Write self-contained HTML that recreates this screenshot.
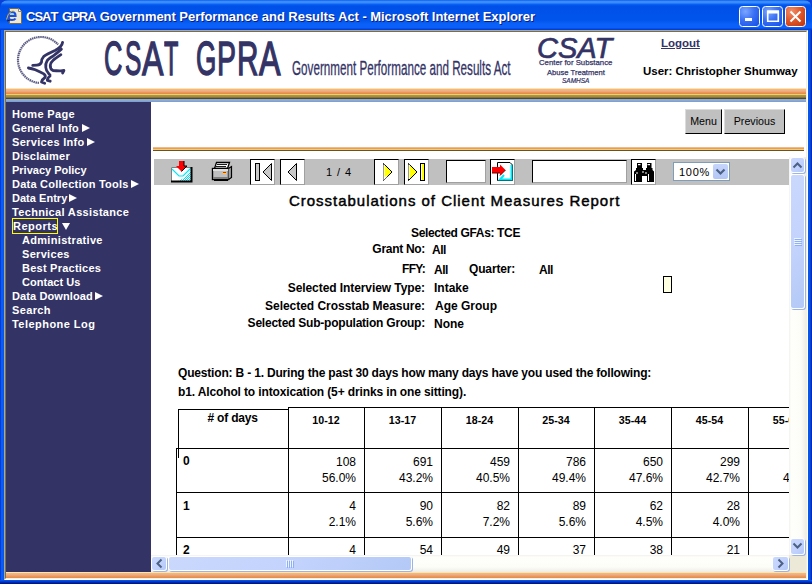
<!DOCTYPE html>
<html><head><meta charset="utf-8">
<style>
*{margin:0;padding:0;box-sizing:border-box}
html,body{width:812px;height:584px;overflow:hidden;background:#0a3fd8;font-family:"Liberation Sans",sans-serif}
.a{position:absolute}
#win{position:absolute;left:0;top:0;width:812px;height:584px;background:linear-gradient(90deg,#0019b8 0,#0a5cf5 1px,#0a5cf5 3px,#0050e8 4px,#0050e8 808px,#0a5cf5 809px,#003cd0 811px,#001a90 812px);border-radius:8px 8px 0 0;overflow:hidden}
#title{position:absolute;left:0;top:0;width:812px;height:30px;border-radius:8px 8px 0 0;
background:linear-gradient(180deg,#0050e0 0,#3a8cff 1px,#3a8cff 3px,#0a64f8 4px,#0050e8 6px,#0054ec 20px,#0a60f8 24px,#0a60f8 28px,#0040d8 29px,#0040d8 30px)}
#ttext{position:absolute;left:26px;top:9px;color:#fff;font-weight:bold;font-size:13px;letter-spacing:0px;text-shadow:1px 1px 0 #0a1e80;white-space:nowrap;line-height:16px}
.tb{position:absolute;top:6px;width:21px;height:21px;border:1px solid #fff;border-radius:3px;background:radial-gradient(circle at 30% 30%,#6e9cff 0,#2a64f0 60%,#1c4ed8 100%)}
#content{position:absolute;left:4px;top:30px;width:804px;height:550px;border-top:1px solid #aca899;border-left:1px solid #aca899;border-right:1px solid #fff;border-bottom:1px solid #fff}
#inner{position:absolute;left:0;top:0;width:802px;height:548px;border-top:1px solid #716f64;border-left:1px solid #716f64;border-right:1px solid #f1efe2;border-bottom:1px solid #f1efe2;background:#fff;overflow:hidden}
.nav{position:absolute;left:12px;color:#fff;font-weight:bold;font-size:11px;letter-spacing:0.3px;line-height:14px;white-space:nowrap}
.arr{position:absolute;width:0;height:0;border-top:4px solid transparent;border-bottom:4px solid transparent;border-left:8px solid #fff}
.lbl{position:absolute;font-weight:bold;font-size:12px;line-height:14px;white-space:nowrap;color:#000}
.r{text-align:right}
.btn{position:absolute;top:109px;height:25px;background:#c0c0c0;border-top:1px solid #dcdcdc;border-left:1px solid #dcdcdc;border-right:1px solid #000;border-bottom:1px solid #000;font-size:10.67px;line-height:23px;text-align:center;color:#000}
.tbtn{position:absolute;top:159px;width:25px;height:26px;background:#fff;border-top:1px solid #000;border-left:1px solid #000;border-right:1px solid #a0a0a0;border-bottom:1px solid #a0a0a0}
.inp{position:absolute;top:160px;height:23px;background:#fff;border-top:1px solid #000;border-left:1px solid #000;border-right:1px solid #a0a0a0;border-bottom:1px solid #a0a0a0}
.cell{position:absolute;border:0}
.hl{position:absolute;background:#000;height:2px}
.vl{position:absolute;background:#000;width:2px}
.num{position:absolute;font-size:12px;line-height:16px;text-align:right;white-space:nowrap;color:#000}
.hd{position:absolute;font-size:10.67px;font-weight:bold;line-height:14px;text-align:center;white-space:nowrap;color:#000}
.sbb{position:absolute;border:1px solid #fff;border-radius:3px;background:linear-gradient(135deg,#cad8fd 0,#c3d3fc 50%,#b4c9f7 100%);box-shadow:1px 1px 0 #9db4e3}
</style></head><body>
<div id="win">
 <div id="title">

  <svg class="a" style="left:0;top:0" width="812" height="30" viewBox="0 0 812 30">
   <path d="M9.5,8.5 L18.5,8.5 L21.5,11.5 L21.5,23.5 L9.5,23.5 Z" fill="#ece9d8" stroke="#7a6a50" stroke-width="1"/>
   <path d="M18.5,8.5 L18.5,11.5 L21.5,11.5" fill="#fff" stroke="#7a6a50" stroke-width="0.8"/>
   <path d="M9,16 L15.5,16 Q15.5,12 12,12 Q8,12 8,16 Q8,20 12,20 Q14.5,20 15.5,18.5" fill="none" stroke="#2050d8" stroke-width="2.2"/>
   <path d="M10,14 L14,14" stroke="#40c0ff" stroke-width="0.8"/>
   <path d="M6.5,19.5 Q7.5,14 11,11.5 Q13,10.5 14,11" fill="none" stroke="#e0c040" stroke-width="1" opacity="0.9"/>
   <path d="M7,21 L10,20" stroke="#101850" stroke-width="1"/>
   <g>
    <rect x="739.5" y="6.5" width="20" height="20" rx="3" fill="url(#gmin)" stroke="#fff" stroke-width="1"/>
    <rect x="745" y="18" width="7" height="3" fill="#fff"/>
    <rect x="762.5" y="6.5" width="20" height="20" rx="3" fill="url(#gmin)" stroke="#fff" stroke-width="1"/>
    <rect x="768" y="11" width="10" height="10" fill="none" stroke="#fff" stroke-width="1"/>
    <rect x="767.5" y="10.5" width="11" height="3" fill="#fff"/>
    <path d="M767.5,10.5 L767.5,21.5 L778.5,21.5 L778.5,10.5" fill="none" stroke="#fff" stroke-width="1.2"/>
    <rect x="785.5" y="6.5" width="20" height="20" rx="3" fill="url(#gcls)" stroke="#fff" stroke-width="1"/>
    <path d="M790.5,11.5 L800.5,21.5 M800.5,11.5 L790.5,21.5" stroke="#fff" stroke-width="2"/>
   </g>
   <defs>
    <radialGradient id="gmin" cx="0.3" cy="0.25" r="0.9"><stop offset="0" stop-color="#7aa6ff"/><stop offset="0.5" stop-color="#3a70f4"/><stop offset="1" stop-color="#1a54e8"/></radialGradient>
    <radialGradient id="gcls" cx="0.3" cy="0.25" r="0.9"><stop offset="0" stop-color="#f0906a"/><stop offset="0.5" stop-color="#e0582c"/><stop offset="1" stop-color="#c43810"/></radialGradient>
   </defs>
  </svg>
  <div id="ttext"><span style="letter-spacing:-1px">CSA</span>T <span style="letter-spacing:-1px">GPR</span>A <span style="letter-spacing:-0.05px">Government Performance and Results Act - Microsoft Internet Explorer</span></div>
 </div>
 <div class="a" style="left:0;top:580px;width:812px;height:4px;background:linear-gradient(180deg,#0a5cf5 0,#0048e0 1px,#0030c0 2px,#001c98 3px,#001280 4px)"></div>
 <div id="content"><div id="inner"></div></div>

 <!-- header stripe -->
 <div class="a" style="left:6px;top:88px;width:800px;height:14px;background:linear-gradient(180deg,#fde7a0 0,#fde7a0 1px,#f0b890 1px,#efae84 3px,#eca070 4px,#e88c48 5px,#e88a40 6px,#f0d060 6px,#f0d060 7px,#b09850 7px,#a08840 9px,#706028 10px,#3a2c10 11px,#8aaedc 11px,#88a8d8 13px,#7898c8 14px)"></div>
 <!-- sidebar -->
 <div class="a" style="left:6px;top:102px;width:145px;height:470px;background:#333366"></div>
 <!-- bottom stripe -->
 <div class="a" style="left:6px;top:572px;width:800px;height:6px;background:linear-gradient(180deg,#fde7a0 0,#fde7a0 1px,#f0b890 1px,#eeaa80 3px,#e89050 5px,#e88a40 6px)"></div>

 <!-- header logos -->
 <svg class="a" style="left:10px;top:32px" width="65" height="56" viewBox="10 32 65 56">
  <path d="M39,82.9 A23,23 0 1,1 58.1,44.6" fill="none" stroke="#333366" stroke-width="2.2" stroke-dasharray="1.5 0.6" opacity="0.8"/>
  <g fill="none" stroke="#333366" stroke-width="2.8" stroke-linecap="round" stroke-linejoin="round">
   <path d="M62.6,42.3 Q62,47 55,50.5 Q47,54 43.8,56.4 Q41.5,59 41.5,62 Q40.5,65 37,65.2 L32.7,65.4"/>
   <path d="M61.4,49.1 Q57,53 53.2,56 Q48,59 47,61 Q45.2,64 45.8,67.5 Q46,71 49,73.9 Q50.5,75 50,76 Q47,78.5 47.4,80.5 L50.2,81.2"/>
   <path d="M60.9,54.7 Q56,58 53.2,60.2 Q50.5,62.5 50.3,65 Q50,69 53,70.5 Q57,71 60.9,70.9 L63.9,70.5 L62.6,73"/>
   <path d="M28.4,68 Q32,68.5 35.3,69.7 Q40.5,72 43.8,73.9 Q46,75.5 45,77.5 Q42,79.5 41.5,82 L44.7,83.3"/>
  </g>
 </svg>
 <div class="a" style="left:292px;top:57px;font-size:20.5px;color:#333366;transform:scaleX(0.569);transform-origin:0 0;white-space:nowrap;line-height:22px;-webkit-text-stroke:0.3px #333366">Government Performance and Results Act</div>
 <div class="a" style="left:537px;top:33px;font-size:29px;font-style:italic;color:#333366;white-space:nowrap;line-height:30px;-webkit-text-stroke:0.7px #333366">CSAT</div>
 <div class="a" style="left:539px;top:58px;font-size:8px;color:#333366;white-space:nowrap;line-height:9px;transform:scaleX(0.97);transform-origin:0 0;-webkit-text-stroke:0.25px #333366">Center for Substance</div>
 <div class="a" style="left:547px;top:68px;font-size:8px;color:#333366;white-space:nowrap;line-height:9px;transform:scaleX(0.95);transform-origin:0 0;-webkit-text-stroke:0.25px #333366">Abuse Treatment</div>
 <div class="a" style="left:562px;top:77px;font-size:6.5px;font-style:italic;color:#333366;white-space:nowrap;line-height:7px;-webkit-text-stroke:0.2px #333366">SAMHSA</div>
 <div class="a" style="left:661px;top:37px;font-size:11.5px;font-weight:bold;color:#333366;text-decoration:underline;white-space:nowrap;line-height:13px">Logout</div>
 <div class="a" style="left:643px;top:65px;font-size:11.5px;font-weight:bold;color:#000;white-space:nowrap;line-height:13px">User: Christopher Shumway</div>

 <div class="a" style="left:103.96px;top:34.70px;font-size:47.6px;line-height:47.6px;color:#333366;-webkit-text-stroke:1.4px #333366;transform:scaleX(0.534);transform-origin:0 0">C</div>
 <div class="a" style="left:125.00px;top:34.70px;font-size:47.6px;line-height:47.6px;color:#333366;-webkit-text-stroke:1.4px #333366;transform:scaleX(0.515);transform-origin:0 0">S</div>
 <div class="a" style="left:141.60px;top:34.70px;font-size:47.6px;line-height:47.6px;color:#333366;-webkit-text-stroke:1.4px #333366;transform:scaleX(0.674);transform-origin:0 0">A</div>
 <div class="a" style="left:163.70px;top:34.70px;font-size:47.6px;line-height:47.6px;color:#333366;-webkit-text-stroke:1.4px #333366;transform:scaleX(0.493);transform-origin:0 0">T</div>
 <div class="a" style="left:195.93px;top:34.70px;font-size:47.6px;line-height:47.6px;color:#333366;-webkit-text-stroke:1.4px #333366;transform:scaleX(0.549);transform-origin:0 0">G</div>
 <div class="a" style="left:216.95px;top:34.70px;font-size:47.6px;line-height:47.6px;color:#333366;-webkit-text-stroke:1.4px #333366;transform:scaleX(0.599);transform-origin:0 0">P</div>
 <div class="a" style="left:237.28px;top:34.70px;font-size:47.6px;line-height:47.6px;color:#333366;-webkit-text-stroke:1.4px #333366;transform:scaleX(0.624);transform-origin:0 0">R</div>
 <div class="a" style="left:259.00px;top:34.70px;font-size:47.6px;line-height:47.6px;color:#333366;-webkit-text-stroke:1.4px #333366;transform:scaleX(0.677);transform-origin:0 0">A</div>
 <!-- nav -->
 <div class="nav" style="top:107px;letter-spacing:0.34px">Home Page</div>
 <div class="nav" style="top:121px;letter-spacing:0.24px">General Info</div><div class="arr" style="left:82px;top:124px"></div>
 <div class="nav" style="top:135px;letter-spacing:0.32px">Services Info</div><div class="arr" style="left:87px;top:138px"></div>
 <div class="nav" style="top:149px;letter-spacing:0.23px">Disclaimer</div>
 <div class="nav" style="top:163px;letter-spacing:0.0px">Privacy Policy</div>
 <div class="nav" style="top:177px;letter-spacing:0.235px">Data Collection Tools</div><div class="arr" style="left:131px;top:180px"></div>
 <div class="nav" style="top:191px;letter-spacing:0.03px">Data Entry</div><div class="arr" style="left:69px;top:194px"></div>
 <div class="nav" style="top:205px;letter-spacing:0.33px">Technical Assistance</div>
 <div class="nav" style="top:219px;left:13px;letter-spacing:0.5px">Reports</div>
 <div class="a" style="left:12px;top:218px;width:46px;height:16px;border:1px solid #ffff00"></div>
 <div class="a" style="left:62px;top:223px;width:0;height:0;border-left:4px solid transparent;border-right:4px solid transparent;border-top:7px solid #fff"></div>
 <div class="nav" style="top:233px;left:22px;letter-spacing:0.31px">Administrative</div>
 <div class="nav" style="top:247px;left:22px;letter-spacing:0.31px">Services</div>
 <div class="nav" style="top:261px;left:22px;letter-spacing:0.24px">Best Practices</div>
 <div class="nav" style="top:275px;left:22px;letter-spacing:0.03px">Contact Us</div>
 <div class="nav" style="top:289px;letter-spacing:0.11px">Data Download</div><div class="arr" style="left:95px;top:292px"></div>
 <div class="nav" style="top:303px;letter-spacing:0.36px">Search</div>
 <div class="nav" style="top:317px;letter-spacing:0.46px">Telephone Log</div>


 <!-- iframe content -->
 <div class="a" style="left:154px;top:159px;width:635px;height:26px;background:#c0c0c0"></div>
 <!-- download icon -->
 <svg class="a" style="left:166px;top:157px" width="30" height="28" viewBox="166 157 30 28">
  <defs><pattern id="dith" width="2" height="2" patternUnits="userSpaceOnUse"><rect x="0" y="0" width="1" height="1" fill="#00e0f0"/><rect x="1" y="1" width="1" height="1" fill="#00e0f0"/><rect x="1" y="0" width="1" height="1" fill="#fff"/><rect x="0" y="1" width="1" height="1" fill="#fff"/></pattern></defs>
  <rect x="171" y="167" width="21" height="15" fill="#fff"/>
  <path d="M184,178 L191,170 L191,181 L178,181 Z" fill="url(#dith)"/>
  <path d="M172,169 L179,176 L183,176 L191,168" fill="none" stroke="#00e8f8" stroke-width="1.2"/>
  <path d="M171.5,182 L171.5,167.5 L191.5,167.5" fill="none" stroke="#808080" stroke-width="1"/>
  <path d="M171,181.5 L191.5,181.5 L191.5,167" fill="none" stroke="#000" stroke-width="2"/>
  <path d="M179,161 L184,161 L184,166 L187,166 L181.5,171.5 L176,166 L179,166 Z" fill="#ff0000"/>
  <path d="M184,161 L184,166 L187,166 L181.5,171.5" fill="none" stroke="#000" stroke-width="1"/>
 </svg>
 <!-- printer icon -->
 <svg class="a" style="left:206px;top:157px" width="30" height="28" viewBox="206 157 30 28">
  <path d="M216.5,162.5 L229.5,162.5 L227.5,168.5 L214.5,168.5 Z" fill="#fff" stroke="#000" stroke-width="1.3"/>
  <path d="M217,164.5 L227,164.5 M216,166.5 L226,166.5" stroke="#000" stroke-width="0.9"/>
  <rect x="212.5" y="168.5" width="16" height="11" fill="#c0c0c0" stroke="#000" stroke-width="1.4"/>
  <path d="M228.5,168.5 L231.5,166.5 L231.5,177.5 L228.5,179.5" fill="#a0a0a0" stroke="#000" stroke-width="1.2"/>
  <rect x="213" y="169" width="15" height="2" fill="#e0e0e0"/>
  <rect x="213" y="177" width="15" height="2" fill="#808080"/>
  <path d="M214,180.5 L228,180.5" stroke="#000" stroke-width="1.2"/>
  <rect x="223" y="172" width="3" height="1" fill="#ff2000"/>
  <rect x="223" y="173" width="3" height="1" fill="#f0e000"/>
 </svg>
 <!-- nav buttons -->
 <div class="tbtn" style="left:250px"></div>
 <div class="tbtn" style="left:280px"></div>
 <div class="tbtn" style="left:374px"></div>
 <div class="tbtn" style="left:404px"></div>
 <svg class="a" style="left:245px;top:155px" width="190" height="32" viewBox="245 155 190 32">
  <rect x="255.5" y="163.5" width="4" height="17" fill="#c8c8c8" stroke="#000" stroke-width="1"/>
  <path d="M271.5,163.5 L263,172 L271.5,180.5 Z" fill="#c8c8c8" stroke="#000" stroke-width="1"/>
  <path d="M296.5,163.5 L288,172 L296.5,180.5 Z" fill="#c8c8c8" stroke="#000" stroke-width="1"/>
  <path d="M383.5,163.5 L392,172 L383.5,180.5 Z" fill="#ffff00" stroke="#000" stroke-width="1"/>
  <path d="M384,164.5 L384,179 L387,176" fill="none" stroke="#fff" stroke-width="1.2"/>
  <path d="M408.5,163.5 L417,172 L408.5,180.5 Z" fill="#ffff00" stroke="#000" stroke-width="1"/>
  <path d="M409,164.5 L409,179" fill="none" stroke="#fff" stroke-width="1.2"/>
  <rect x="420.5" y="163.5" width="4" height="17" fill="#ffff00" stroke="#000" stroke-width="1"/>
  <path d="M421.5,164 L421.5,180" stroke="#fff" stroke-width="1"/>
 </svg>
 <div class="a" style="left:326px;top:166px;font-size:11px;letter-spacing:0.9px;line-height:13px;white-space:nowrap;color:#000">1 / 4</div>
 <div class="inp" style="left:446px;width:40px"></div>
 <div class="tbtn" style="left:490px"></div>
 <svg class="a" style="left:490px;top:159px" width="26" height="26" viewBox="490 159 26 26">
  <path d="M497.5,162.5 L510,162.5 L512.5,165 L512.5,180.5 L497.5,180.5 Z" fill="#fff" stroke="#000" stroke-width="1"/>
  <path d="M498,180 L498,175 L502,171 L512,171 L512,180 Z" fill="#00e8f8" opacity="0"/>
  <path d="M511.5,165 L511.5,179.5 L500,179.5 L504,175" fill="none" stroke="#00e8f8" stroke-width="2"/>
  <path d="M492,167 L500,167 L500,164.5 L505.5,170 L500,175.5 L500,173 L492,173 Z" fill="#ff0000"/>
  <path d="M500,173 L492,173 M500,175.5 L505.5,170" fill="none" stroke="#600" stroke-width="1"/>
 </svg>
 <div class="inp" style="left:532px;width:95px"></div>
 <div class="tbtn" style="left:631px"></div>
 <svg class="a" style="left:631px;top:159px" width="26" height="26" viewBox="631 159 26 26">
  <path d="M637,163 L642,163 L642,168 L643,168 L643,170 L646,170 L646,168 L647,168 L647,163 L651.5,163 L651.5,168 L652.5,168 L652.5,170 L654,171.5 L654,182 L647,182 L647,176 L642,176 L642,182 L634,182 L634,171.5 L636,170 L636,168 L637,168 Z" fill="#000"/>
  <rect x="638" y="164" width="2.5" height="1.2" fill="#fff"/>
  <rect x="647.5" y="164" width="2.5" height="1.2" fill="#fff"/>
  <rect x="635" y="174" width="1" height="7" fill="#fff"/>
  <rect x="648" y="174" width="1" height="7" fill="#fff"/>
  <rect x="636.5" y="172" width="1" height="2" fill="#fff"/>
  <rect x="642.5" y="171" width="1" height="2" fill="#fff"/>
  <rect x="645.5" y="172" width="1" height="2" fill="#fff"/>
 </svg>
 <!-- zoom select -->
 <div class="a" style="left:673px;top:162px;width:57px;height:19px;background:#fff;border:1px solid #7f9db9"></div>
 <div class="a" style="left:679px;top:166px;font-size:11px;letter-spacing:0.7px;line-height:13px;color:#000;white-space:nowrap">100%</div>
 <div class="a" style="left:713px;top:164px;width:15px;height:15px;border-radius:2px;background:linear-gradient(180deg,#c6d5fc,#b2c6f5)"></div>
 <svg class="a" style="left:713px;top:164px" width="15" height="15" viewBox="0 0 15 15"><path d="M3.5,5.5 L7.5,9.5 L11.5,5.5" fill="none" stroke="#4d6185" stroke-width="2.2"/></svg>

 <!-- report header -->
 <div class="a" style="left:289px;top:192px;font-size:15px;letter-spacing:0.98px;line-height:17px;white-space:nowrap;color:#000;-webkit-text-stroke:0.45px #000">Crosstabulations of Client Measures Report</div>
 <div class="lbl" style="left:411px;top:226px;letter-spacing:-0.35px">Selected GFAs: TCE</div>
 <div class="lbl r" style="left:225px;width:200px;top:242px;letter-spacing:-0.3px">Grant No:</div>
 <div class="lbl" style="left:432px;top:243px;letter-spacing:-0.5px">All</div>
 <div class="lbl r" style="left:225px;width:200px;top:262px;letter-spacing:-0.7px">FFY:</div>
 <div class="lbl" style="left:434px;top:263px;letter-spacing:-0.5px">All</div>
 <div class="lbl" style="left:469px;top:262px;letter-spacing:-0.15px">Quarter:</div>
 <div class="lbl" style="left:539px;top:263px;letter-spacing:-0.5px">All</div>
 <div class="lbl r" style="left:225px;width:200px;top:281px;letter-spacing:-0.08px">Selected Interview Type:</div>
 <div class="lbl" style="left:434px;top:281px">Intake</div>
 <div class="lbl r" style="left:225px;width:200px;top:299px;letter-spacing:-0.03px">Selected Crosstab Measure:</div>
 <div class="lbl" style="left:435px;top:299px">Age Group</div>
 <div class="lbl r" style="left:225px;width:200px;top:316px;letter-spacing:-0.22px">Selected Sub-population Group:</div>
 <div class="lbl" style="left:434px;top:317px">None</div>
 <div class="a" style="left:663px;top:276px;width:9px;height:17px;border:1px solid #000;background:#ffffe1"></div>

 <div class="lbl" style="left:178px;top:366px;letter-spacing:-0.18px">Question: B - 1. During the past 30 days how many days have you used the following:</div>
 <div class="lbl" style="left:178px;top:385px;letter-spacing:-0.13px">b1. Alcohol to intoxication (5+ drinks in one sitting).</div>
 <div id="tbl" class="a" style="left:151px;top:157px;width:638px;height:398px;overflow:hidden">
<div class="a" style="left:27px;top:252px;width:111px;height:1px;background:#000"></div>
<div class="a" style="left:27px;top:252px;width:1px;height:49px;background:#000"></div>
<div class="a" style="left:137px;top:250px;width:542px;height:1px;background:#000"></div>
<div class="a" style="left:137px;top:250px;width:1px;height:153px;background:#000"></div>
<div class="a" style="left:213px;top:250px;width:1px;height:153px;background:#000"></div>
<div class="a" style="left:290px;top:250px;width:1px;height:153px;background:#000"></div>
<div class="a" style="left:367px;top:250px;width:1px;height:153px;background:#000"></div>
<div class="a" style="left:443px;top:250px;width:1px;height:153px;background:#000"></div>
<div class="a" style="left:520px;top:250px;width:1px;height:153px;background:#000"></div>
<div class="a" style="left:597px;top:250px;width:1px;height:153px;background:#000"></div>
<div class="a" style="left:25px;top:291px;width:654px;height:1px;background:#000"></div>
<div class="a" style="left:25px;top:335px;width:654px;height:1px;background:#000"></div>
<div class="a" style="left:25px;top:380px;width:654px;height:1px;background:#000"></div>
<div class="a" style="left:25px;top:291px;width:1px;height:112px;background:#000"></div>
<div class="a" style="left:56.5px;top:254px;font-size:12px;font-weight:bold;line-height:14px;white-space:nowrap;letter-spacing:-0.2px"># of days</div>
<div class="hd" style="left:137px;width:76px;top:256px">10-12</div>
<div class="hd" style="left:213px;width:77px;top:256px">13-17</div>
<div class="hd" style="left:290px;width:77px;top:256px">18-24</div>
<div class="hd" style="left:367px;width:76px;top:256px">25-34</div>
<div class="hd" style="left:443px;width:77px;top:256px">35-44</div>
<div class="hd" style="left:520px;width:77px;top:256px">45-54</div>
<div class="hd" style="left:597px;width:77px;top:256px">55-64</div>
<div class="num" style="left:137px;width:68px;top:297px">108<br>56.0%</div>
<div class="num" style="left:213px;width:69px;top:297px">691<br>43.2%</div>
<div class="num" style="left:290px;width:69px;top:297px">459<br>40.5%</div>
<div class="num" style="left:367px;width:68px;top:297px">786<br>49.4%</div>
<div class="num" style="left:443px;width:69px;top:297px">650<br>47.6%</div>
<div class="num" style="left:520px;width:69px;top:297px">299<br>42.7%</div>
<div class="num" style="left:597px;width:69px;top:297px"><br>45.1%</div>
<div class="num" style="left:137px;width:68px;top:341px">4<br>2.1%</div>
<div class="num" style="left:213px;width:69px;top:341px">90<br>5.6%</div>
<div class="num" style="left:290px;width:69px;top:341px">82<br>7.2%</div>
<div class="num" style="left:367px;width:68px;top:341px">89<br>5.6%</div>
<div class="num" style="left:443px;width:69px;top:341px">62<br>4.5%</div>
<div class="num" style="left:520px;width:69px;top:341px">28<br>4.0%</div>
<div class="num" style="left:597px;width:69px;top:341px"><br></div>
<div class="num" style="left:137px;width:68px;top:385px">4<br></div>
<div class="num" style="left:213px;width:69px;top:385px">54<br></div>
<div class="num" style="left:290px;width:69px;top:385px">49<br></div>
<div class="num" style="left:367px;width:68px;top:385px">37<br></div>
<div class="num" style="left:443px;width:69px;top:385px">38<br></div>
<div class="num" style="left:520px;width:69px;top:385px">21<br></div>
<div class="num" style="left:597px;width:69px;top:385px"><br></div>
<div class="a" style="left:32px;top:296px;font-size:12px;font-weight:bold;line-height:16px;white-space:nowrap">0</div>
<div class="a" style="left:32px;top:341px;font-size:12px;font-weight:bold;line-height:16px;white-space:nowrap">1</div>
<div class="a" style="left:32px;top:385px;font-size:12px;font-weight:bold;line-height:16px;white-space:nowrap">2</div>
</div>


 <!-- scrollbars -->
 <div class="a" style="left:789px;top:157px;width:17px;height:398px;background:linear-gradient(90deg,#f3f1ec 0,#fefefb 2px,#fdfdf8 12px,#eeede5 17px)"></div>
 <div class="a" style="left:151px;top:555px;width:638px;height:17px;background:linear-gradient(180deg,#f3f1ec 0,#fefefb 2px,#fdfdf8 12px,#eeede5 17px)"></div>
 <div class="a" style="left:789px;top:555px;width:17px;height:17px;background:#ece9d8"></div>
 <div class="sbb" style="left:790px;top:157px;width:15px;height:16px"></div>
 <div class="sbb" style="left:790px;top:174px;width:15px;height:135px"></div>
 <div class="sbb" style="left:790px;top:538px;width:15px;height:17px"></div>
 <div class="sbb" style="left:151px;top:556px;width:16px;height:15px"></div>
 <div class="sbb" style="left:168px;top:556px;width:244px;height:15px"></div>
 <div class="sbb" style="left:772px;top:556px;width:17px;height:15px"></div>
 <svg class="a" style="left:789px;top:157px" width="17" height="398" viewBox="789 157 17 398">
  <path d="M793.5,167.5 L797.5,163.5 L801.5,167.5" fill="none" stroke="#4d6185" stroke-width="2"/>
  <path d="M793.5,543.5 L797.5,547.5 L801.5,543.5" fill="none" stroke="#4d6185" stroke-width="2"/>
  <g stroke-width="1">
   <path d="M794,238.5 L801,238.5 M794,240.5 L801,240.5 M794,242.5 L801,242.5 M794,244.5 L801,244.5" stroke="#eef3ff"/>
   <path d="M795,239.5 L802,239.5 M795,241.5 L802,241.5 M795,243.5 L802,243.5 M795,245.5 L802,245.5" stroke="#8cb0f8"/>
  </g>
 </svg>
 <svg class="a" style="left:151px;top:555px" width="638" height="17" viewBox="151 555 638 17">
  <path d="M161.5,559.5 L157.5,563.5 L161.5,567.5" fill="none" stroke="#4d6185" stroke-width="2"/>
  <path d="M778.5,559.5 L782.5,563.5 L778.5,567.5" fill="none" stroke="#4d6185" stroke-width="2"/>
  <g stroke-width="1">
   <path d="M286.5,560 L286.5,567 M288.5,560 L288.5,567 M290.5,560 L290.5,567 M292.5,560 L292.5,567" stroke="#eef3ff"/>
   <path d="M287.5,561 L287.5,568 M289.5,561 L289.5,568 M291.5,561 L291.5,568 M293.5,561 L293.5,568" stroke="#8cb0f8"/>
  </g>
 </svg>

 <!-- buttons -->
 <div class="btn" style="left:685px;width:37px">Menu</div>
 <div class="btn" style="left:724px;width:61px">Previous</div>
 <!-- orange line -->
 <div class="a" style="left:153px;top:147px;width:651px;height:4px;background:linear-gradient(180deg,#f0b890 0,#f0b890 1px,#e89a60 1px,#e89a60 2px,#f2d068 2px,#f2d068 3px,#665424 3px)"></div>
</div>
</body></html>
